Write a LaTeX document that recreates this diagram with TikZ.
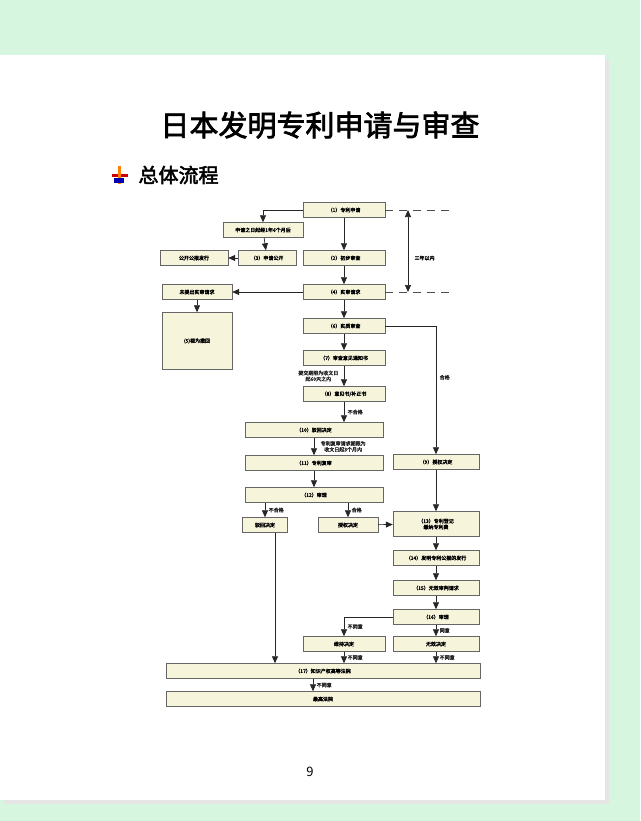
\documentclass[tikz,border=0pt]{standalone}
\usepackage{fontspec}
\usepackage{tikz}
\usetikzlibrary{arrows.meta, positioning}
\setmainfont{Noto Sans CJK SC}
\newfontfamily\cjk[AutoFakeBold=2.5]{Noto Sans CJK SC}
\definecolor{pagegreen}{RGB}{214, 246, 224}
\definecolor{boxcream}{RGB}{247, 244, 220}
\tikzset{
    procbox/.style={draw=black!60, fill=boxcream, minimum height=15pt, inner sep=1pt, align=center, font=\cjk\bfseries\fontsize{5}{6}\selectfont},
    flow/.style={-{Triangle[length=7pt,width=6pt]}, black!85, line width=0.7pt},
    note/.style={font=\cjk\bfseries\fontsize{5}{6}\selectfont, align=center}
}
\begin{document}
\begin{tikzpicture}[x=1pt, y=-1pt]
        \useasboundingbox (0,0) rectangle (640,821);
        \fill[pagegreen] (0,0) rectangle (640,821);
        \fill[black!10] (4,59) rectangle (609,804);
        \fill[white] (0,55) rectangle (605,800);
        \node[font=\cjk\bfseries\fontsize{29}{32}\selectfont] (title) at (320,125) {日本发明专利申请与审查};
        \node[font=\cjk\bfseries\fontsize{20}{22}\selectfont, anchor=west] (sub) at (135,175) {总体流程};
        \fill[red!80!black] (112,174) rectangle (128,177);
        \fill[orange] (118,166) rectangle (121,184);
        \fill[blue!70!black] (114,178) rectangle (124,183);
        \node[font=\fontsize{13}{14}\selectfont] (pg) at (310,772) {9};
        % main chain
        \node[procbox, minimum width=82pt] (p1) at (344,210) {（1）专利申请};
        \node[procbox, minimum width=80pt] (late) at (263,230) {申请之日起经1年6个月后};
        \node[procbox, minimum width=58pt] (p3) at (267,258) {（3）申请公开};
        \node[procbox, minimum width=68pt] (gazette) at (194,258) {公开公报发行};
        \node[procbox, minimum width=82pt] (p2) at (344,258) {（2）初步审查};
        \node[procbox, minimum width=82pt] (p4) at (344,292) {（4）实审请求};
        \node[procbox, minimum width=70pt] (noreq) at (197,292) {未提出实审请求};
        \node[procbox, minimum width=70pt, minimum height=57pt] (p5) at (197,341) {(5)视为撤回};
        \node[procbox, minimum width=82pt] (p6) at (344,326) {（6）实质审查};
        \node[procbox, minimum width=82pt] (p7) at (344,358) {（7）审查意见通知书};
        \node[procbox, minimum width=82pt] (p8) at (344,394) {（8）意见书/补正书};
        \node[procbox, minimum width=138pt] (p10) at (314,430) {（10）驳回决定};
        \node[procbox, minimum width=138pt] (p11) at (314,463) {（11）专利复审};
        \node[procbox, minimum width=138pt] (p12) at (314,495) {（12）审理};
        \node[procbox, minimum width=45pt] (reject) at (265,525) {驳回决定};
        \node[procbox, minimum width=60pt] (grant) at (348,525) {授权决定};
        \node[procbox, minimum width=86pt] (p9) at (436,462) {（9）授权决定};
        \node[procbox, minimum width=86pt, minimum height=25pt] (p13) at (436,524) {（13）专利登记\\缴纳专利费};
        \node[procbox, minimum width=86pt] (p14) at (436,558) {（14）发明专利公报的发行};
        \node[procbox, minimum width=86pt] (p15) at (436,588) {（15）无效审判请求};
        \node[procbox, minimum width=86pt] (p16) at (436,617) {（16）审理};
        \node[procbox, minimum width=82pt] (keep) at (344,644) {维持决定};
        \node[procbox, minimum width=86pt] (void) at (436,644) {无效决定};
        \node[procbox, minimum width=314pt] (p17) at (323,671) {（17）知识产权高等法院};
        \node[procbox, minimum width=314pt] (court) at (323,699) {最高法院};
        % three-year span
        \coordinate (d1) at (455,210);
        \coordinate (d4) at (455,292);
        \draw[black!70, dash pattern=on 8pt off 6pt] (p1.east) -- (d1);
        \draw[black!70, dash pattern=on 8pt off 6pt] (p4.east) -- (d4);
        \draw[{Triangle[length=7pt,width=6pt]}-{Triangle[length=7pt,width=6pt]}, black!85, line width=0.7pt] (408,210) -- (408,292);
        \node[note, anchor=west] (span) at (411,258) {三年以内};
        % connectors
        \draw[flow] (p1.west) -| (late.north);
        \draw[flow] (p1) -- (p2);
        \draw[flow] (late) -- (p3);
        \draw[flow] (p3) -- (gazette);
        \draw[flow] (p2) -- (p4);
        \draw[flow] (p4) -- (noreq);
        \draw[flow] (noreq) -- (p5);
        \draw[flow] (p4) -- (p6);
        \draw[flow] (p6) -- (p7);
        \draw[flow] (p7) -- node[note, left=2pt] {提交期限为收文日\\起60天之内} (p8);
        \draw[flow] (p8.south) -- node[note, right] {不合格} (p8.south |- p10.north);
        \draw[flow] (p6.east) -| node[note, pos=0.7, right] {合格} (p9.north);
        \draw[flow] (p10) -- node[note, right=3pt] {专利复审请求期限为\\收文日起3个月内} (p11);
        \draw[flow] (p11) -- (p12);
        \draw[flow] (reject.north |- p12.south) -- node[note, right] {不合格} (reject.north);
        \draw[flow] (grant.north |- p12.south) -- node[note, right] {合格} (grant.north);
        \draw[flow] (grant) -- (p13);
        \draw[flow] (p9) -- (p13);
        \draw[flow] (p13) -- (p14);
        \draw[flow] (p14) -- (p15);
        \draw[flow] (p15) -- (p16);
        \draw[flow] (p16.west) -| node[note, pos=0.75, right] {不同意} (keep.north);
        \draw[flow] (p16) -- node[note, right] {同意} (void);
        \draw[flow] (keep.south) -- node[note, right] {不同意} (keep.south |- p17.north);
        \draw[flow] (void.south) -- node[note, right] {不同意} (void.south |- p17.north);
        \draw[flow] ([xshift=10pt]reject.south) -- ([xshift=10pt]reject.south |- p17.north);
        \draw[flow] ([xshift=-10pt]p17.south) -- node[note, right] {不同意} ([xshift=-10pt]court.north);
    \end{tikzpicture}
\end{document}
